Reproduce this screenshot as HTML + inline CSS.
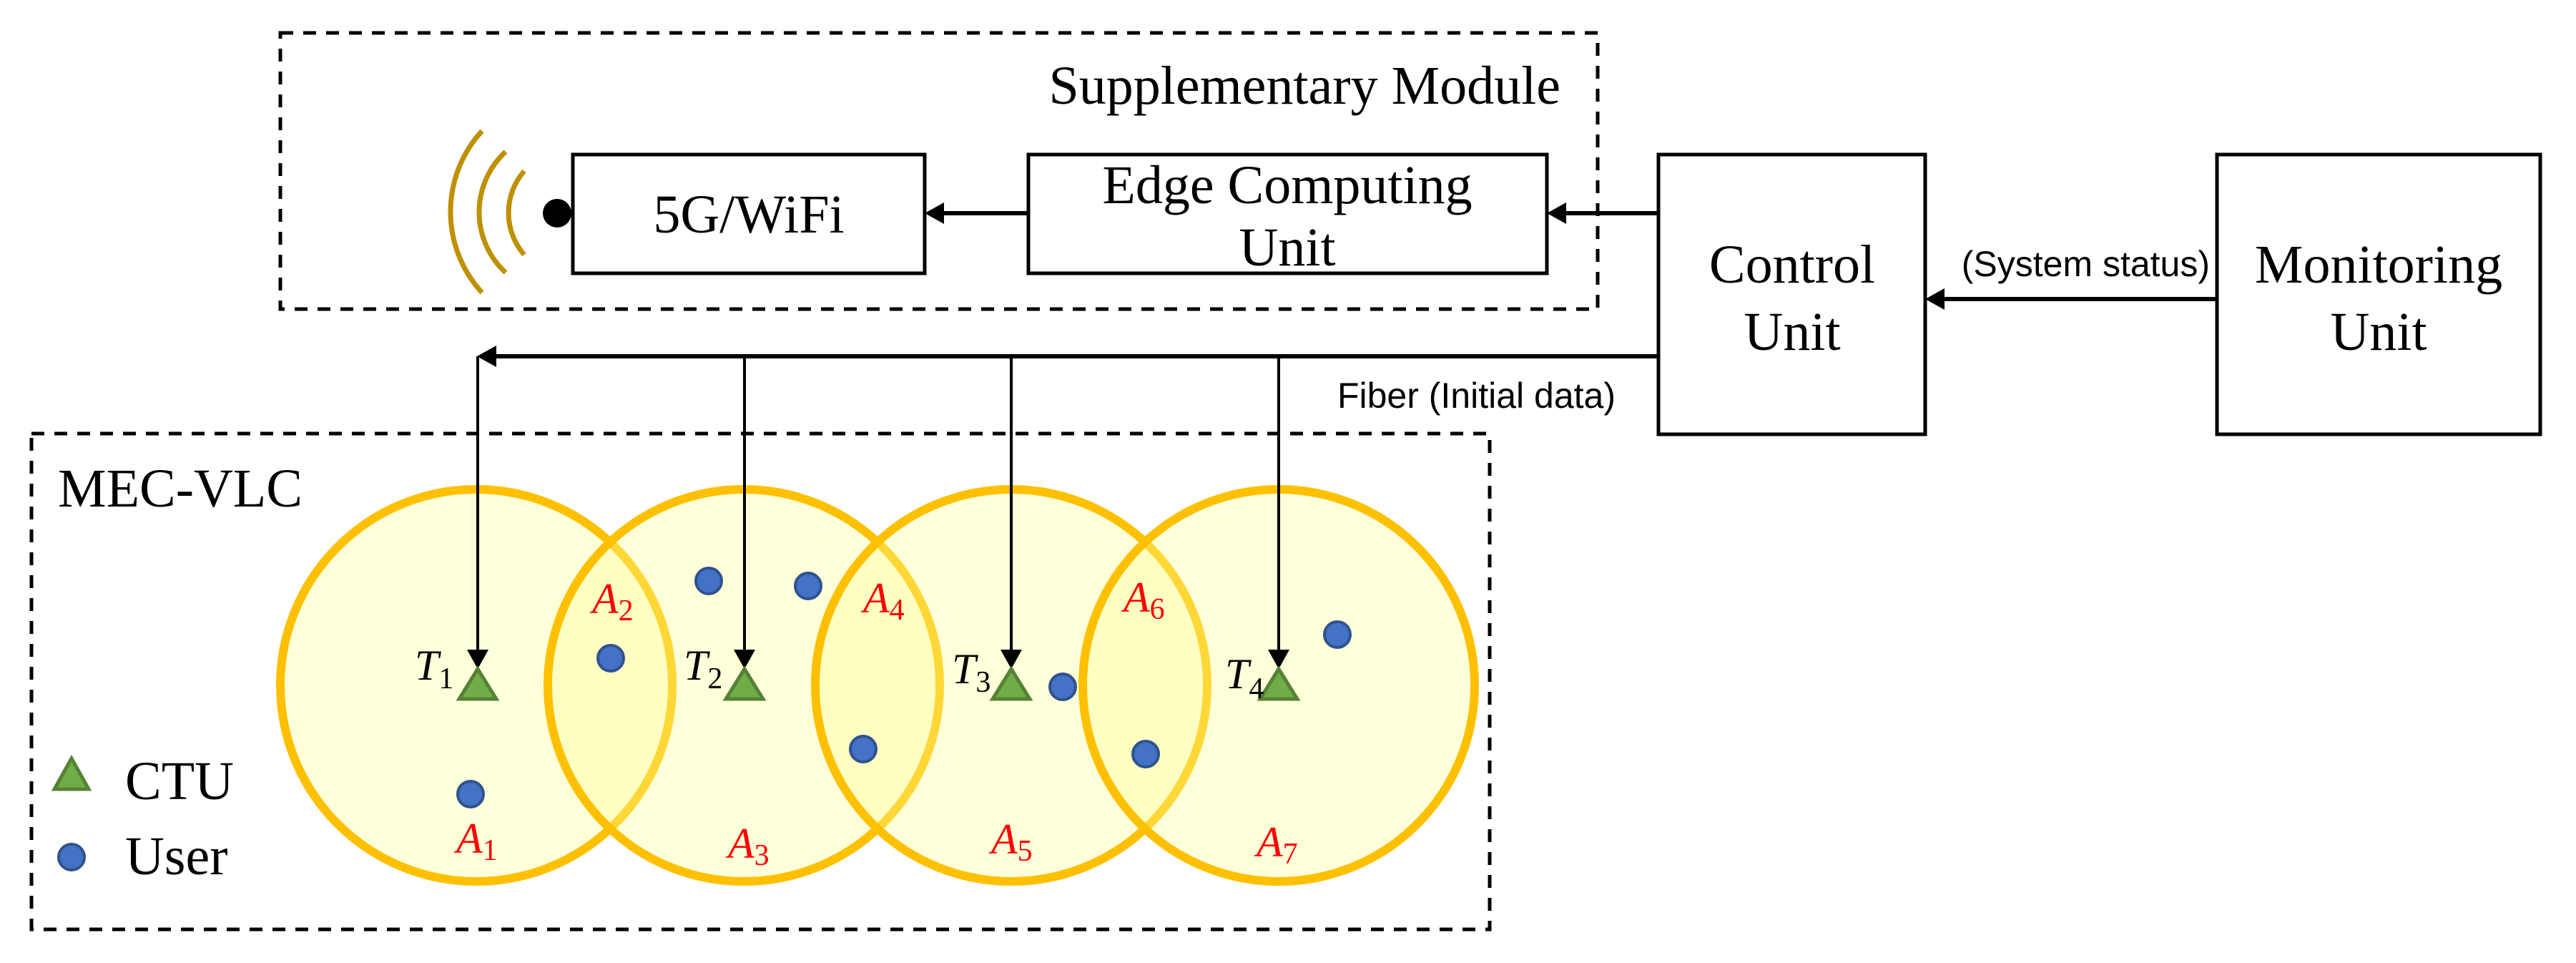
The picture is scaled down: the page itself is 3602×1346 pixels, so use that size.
<!DOCTYPE html>
<html><head><meta charset="utf-8"><style>
html,body{margin:0;padding:0;background:#fff;}
svg{display:block;}
.t{font-family:"Liberation Serif",serif;font-size:76px;fill:#000;}
.s{font-family:"Liberation Sans",sans-serif;font-size:50px;fill:#000;}
.m{font-family:"Liberation Serif",serif;font-style:italic;font-size:60px;}
.sub{font-family:"Liberation Serif",serif;font-size:42px;font-style:normal;}
</style></head><body>
<svg width="3602" height="1346" viewBox="0 0 3602 1346" xmlns="http://www.w3.org/2000/svg">
<!-- dashed boxes -->
<rect x="392" y="46" width="1842" height="386" fill="none" stroke="#000" stroke-width="5" stroke-dasharray="18 14"/>
<rect x="44" y="606" width="2039" height="693" fill="none" stroke="#000" stroke-width="5" stroke-dasharray="18 14"/>
<text class="t" x="2182" y="145" text-anchor="end">Supplementary Module</text>

<!-- circles -->
<g fill="#ffff99" fill-opacity="0.36" stroke="#ffc000" stroke-width="12">
<circle cx="666" cy="958" r="274"/>
<circle cx="1040" cy="958" r="274"/>
<circle cx="1414" cy="958" r="274"/>
<circle cx="1788" cy="958" r="274"/>
</g>

<!-- boxes -->
<g fill="#fff" stroke="#000" stroke-width="5">
<rect x="801" y="216" width="492" height="166"/>
<rect x="1438" y="216" width="725" height="166"/>
<rect x="2319" y="216" width="373" height="391"/>
<rect x="3100" y="216" width="452" height="391"/>
</g>
<text class="t" x="1047" y="325" text-anchor="middle">5G/WiFi</text>
<text class="t" x="1800" y="284" text-anchor="middle">Edge Computing</text>
<text class="t" x="1800" y="371" text-anchor="middle">Unit</text>
<text class="t" x="2506" y="395" text-anchor="middle">Control</text>
<text class="t" x="2506" y="489" text-anchor="middle">Unit</text>
<text class="t" x="3326" y="395" text-anchor="middle">Monitoring</text>
<text class="t" x="3326" y="489" text-anchor="middle">Unit</text>

<!-- antenna -->
<circle cx="779" cy="298" r="20" fill="#000"/>
<g fill="none" stroke="#bf9000" stroke-width="7">
<path d="M674 183 A167 167 0 0 0 674 409"/>
<path d="M707 212 A115 115 0 0 0 707 381"/>
<path d="M733 239 A89 89 0 0 0 733 356"/>
</g>

<!-- arrows -->
<g stroke="#000" stroke-width="6">
<line x1="1438" y1="298" x2="1318" y2="298"/>
<line x1="2319" y1="298" x2="2188" y2="298"/>
<line x1="3100" y1="418" x2="2717" y2="418"/>
<line x1="2319" y1="498" x2="692" y2="498"/>
</g>
<g fill="#000">
<polygon points="1293,298 1320,283 1320,313"/>
<polygon points="2163,298 2190,283 2190,313"/>
<polygon points="2692,418 2719,403 2719,433"/>
<polygon points="667,498 694,483 694,513"/>
</g>
<g stroke="#000" stroke-width="4">
<line x1="668" y1="498" x2="668" y2="912"/>
<line x1="1041" y1="498" x2="1041" y2="912"/>
<line x1="1414" y1="498" x2="1414" y2="912"/>
<line x1="1788" y1="498" x2="1788" y2="912"/>
</g>
<g fill="#000">
<polygon points="653,908 683,908 668,935"/>
<polygon points="1026,908 1056,908 1041,935"/>
<polygon points="1399,908 1429,908 1414,935"/>
<polygon points="1773,908 1803,908 1788,935"/>
</g>
<text class="s" x="2259" y="570" text-anchor="end">Fiber (Initial data)</text>
<text class="s" x="3090" y="386" text-anchor="end">(System status)</text>

<!-- triangles -->
<g fill="#70ad47" stroke="#548235" stroke-width="5">
<polygon points="668,935 642,977 694,977"/>
<polygon points="1041,935 1015,977 1067,977"/>
<polygon points="1414,935 1388,977 1440,977"/>
<polygon points="1788,935 1762,977 1814,977"/>
<polygon points="100,1060 76,1103 124,1103"/>
</g>

<!-- users -->
<g fill="#4472c4" stroke="#2f528f" stroke-width="4">
<circle cx="991" cy="812" r="18"/>
<circle cx="1130" cy="819" r="18"/>
<circle cx="854" cy="920" r="18"/>
<circle cx="1486" cy="960" r="18"/>
<circle cx="1870" cy="887" r="18"/>
<circle cx="1207" cy="1047" r="18"/>
<circle cx="1602" cy="1054" r="18"/>
<circle cx="658" cy="1110" r="18"/>
<circle cx="100" cy="1198" r="18"/>
</g>

<!-- labels -->
<text class="t" x="81" y="708">MEC-VLC</text>
<text class="t" x="175" y="1117">CTU</text>
<text class="t" x="175" y="1222">User</text>

<text class="m" x="580" y="950" fill="#000">T<tspan class="sub" dy="12">1</tspan></text>
<text class="m" x="956" y="950" fill="#000">T<tspan class="sub" dy="12">2</tspan></text>
<text class="m" x="1331" y="955" fill="#000">T<tspan class="sub" dy="12">3</tspan></text>
<text class="m" x="1713" y="962" fill="#000">T<tspan class="sub" dy="14">4</tspan></text>

<g fill="#ff0000">
<text class="m" x="828" y="857">A<tspan class="sub" dy="10">2</tspan></text>
<text class="m" x="1207" y="856">A<tspan class="sub" dy="10">4</tspan></text>
<text class="m" x="1571" y="855">A<tspan class="sub" dy="10">6</tspan></text>
<text class="m" x="638" y="1192">A<tspan class="sub" dy="10">1</tspan></text>
<text class="m" x="1018" y="1199">A<tspan class="sub" dy="10">3</tspan></text>
<text class="m" x="1386" y="1193">A<tspan class="sub" dy="10">5</tspan></text>
<text class="m" x="1757" y="1197">A<tspan class="sub" dy="10">7</tspan></text>
</g>
</svg>
</body></html>
